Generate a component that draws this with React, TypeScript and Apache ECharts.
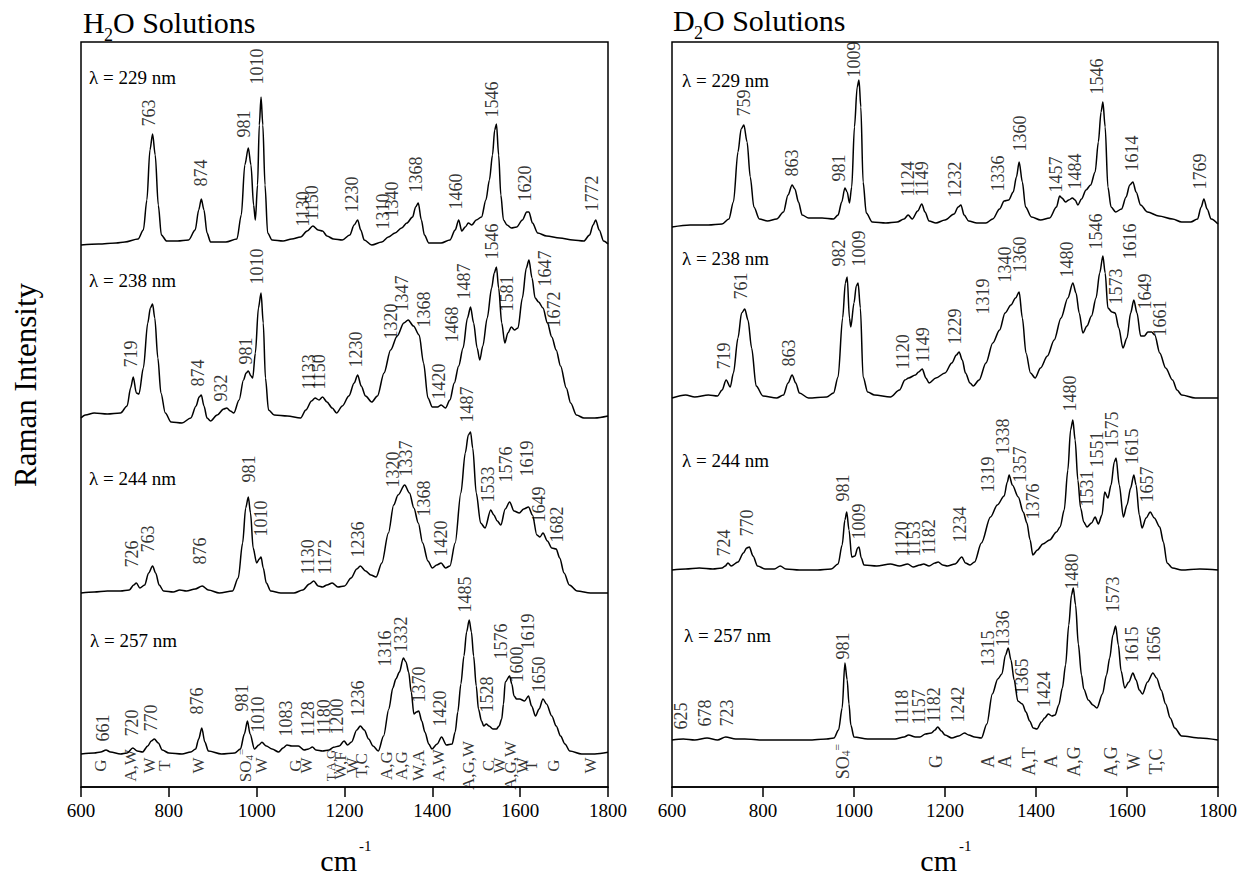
import React, { useEffect, useRef } from 'react';
import * as echarts from 'echarts';

const SERIF = "'Liberation Serif', 'Times New Roman', serif";

const X_MIN = 600;
const X_MAX = 1800;
const X_STEP = 200;

const LAMBDA_NM = ['229', '238', '244', '257'];

// ---- H2O spectra: [wavenumber cm-1, intensity above own baseline] ----
const H2O_229 = [[600,0],[640,1],[680,2],[700,3],[730,6],[742,15],[750,45],[757,95],[763,111],[769,90],[776,40],[783,10],[795,4],[820,4],[845,5],[860,15],[868,35],[874,46],[880,35],[887,12],[895,3],[930,3],[955,6],[965,30],[973,80],[981,97],[987,80],[993,40],[997,25],[1002,60],[1006,120],[1010,148],[1014,120],[1019,60],[1025,12],[1035,5],[1060,4],[1080,6],[1100,8],[1115,14],[1128,19],[1140,15],[1150,14],[1160,9],[1175,6],[1195,5],[1212,10],[1222,20],[1230,25],[1237,15],[1245,5],[1262,0],[1285,3],[1300,8],[1315,12],[1330,17],[1342,22],[1355,28],[1362,38],[1368,42],[1375,25],[1382,10],[1392,2],[1420,2],[1440,5],[1452,15],[1460,25],[1467,14],[1475,18],[1482,22],[1490,20],[1500,25],[1512,28],[1522,45],[1530,65],[1537,90],[1542,115],[1546,121],[1551,90],[1556,50],[1562,25],[1570,20],[1580,17],[1592,18],[1605,25],[1615,33],[1620,33],[1628,22],[1640,12],[1660,9],[1690,7],[1720,5],[1745,4],[1758,10],[1766,20],[1772,25],[1780,15],[1790,4],[1800,1]];
const H2O_238 = [[600,0],[610,3],[630,5],[660,4],[690,5],[705,12],[713,30],[719,41],[726,25],[732,24],[742,50],[752,95],[758,110],[763,114],[768,100],[775,60],[782,25],[792,5],[805,-4],[830,-5],[850,0],[862,12],[869,21],[874,23],[880,12],[887,0],[895,-3],[910,3],[925,9],[932,10],[940,7],[948,5],[960,18],[970,38],[976,45],[981,47],[987,42],[991,40],[997,65],[1004,110],[1010,125],[1015,95],[1020,40],[1027,8],[1040,3],[1070,2],[1100,0],[1112,8],[1125,17],[1133,20],[1142,18],[1150,21],[1160,16],[1172,10],[1182,5],[1195,12],[1210,22],[1222,35],[1230,43],[1238,32],[1248,22],[1262,16],[1275,22],[1290,45],[1305,68],[1320,82],[1335,95],[1345,98],[1357,92],[1370,83],[1380,55],[1390,20],[1400,11],[1412,11],[1420,13],[1430,10],[1440,18],[1450,35],[1460,52],[1470,70],[1480,100],[1487,111],[1494,95],[1502,70],[1508,58],[1515,72],[1525,100],[1535,130],[1541,145],[1546,151],[1551,130],[1558,95],[1565,75],[1572,85],[1580,91],[1587,88],[1595,90],[1605,120],[1614,150],[1620,158],[1627,140],[1634,120],[1642,116],[1652,110],[1662,95],[1672,81],[1682,68],[1692,52],[1705,30],[1715,15],[1728,3],[1745,0],[1770,0],[1800,2]];
const H2O_244 = [[600,0],[630,1],[660,2],[690,2],[710,3],[720,8],[726,10],[734,5],[745,8],[754,20],[763,27],[770,20],[778,8],[788,2],[810,1],[825,3],[840,2],[860,4],[876,7],[890,3],[915,0],[945,2],[958,15],[968,50],[975,85],[981,96],[986,80],[992,45],[1000,30],[1006,34],[1010,36],[1015,25],[1022,10],[1032,2],[1055,0],[1085,0],[1105,3],[1120,9],[1130,12],[1140,7],[1150,6],[1160,8],[1172,10],[1185,6],[1200,7],[1215,15],[1228,24],[1236,27],[1248,22],[1260,18],[1272,16],[1285,30],[1300,60],[1312,88],[1322,98],[1337,108],[1348,100],[1358,85],[1368,70],[1378,50],[1390,32],[1400,25],[1410,28],[1420,30],[1430,25],[1440,27],[1452,50],[1465,100],[1475,140],[1482,158],[1487,161],[1492,145],[1500,100],[1510,70],[1520,65],[1533,83],[1540,78],[1548,72],[1556,68],[1566,84],[1576,91],[1586,82],[1598,80],[1608,84],[1619,86],[1628,78],[1638,58],[1645,56],[1652,60],[1662,52],[1672,45],[1682,44],[1690,35],[1700,20],[1712,8],[1730,2],[1760,0],[1800,0]];
const H2O_257 = [[600,0],[630,1],[645,2],[657,4],[667,2],[690,0],[705,1],[718,6],[728,3],[740,2],[752,8],[760,13],[767,15],[776,11],[785,4],[800,1],[830,0],[850,2],[861,5],[868,15],[875,26],[882,12],[890,3],[920,0],[950,1],[963,5],[972,20],[979,33],[985,20],[995,5],[1005,9],[1012,11.7],[1022,8],[1035,5],[1050,2],[1060,6],[1069,9],[1080,8],[1095,8],[1108,4],[1118,5],[1127,7],[1135,4],[1150,3],[1165,4],[1175,6.7],[1188,8],[1199,13],[1207,9],[1216,12],[1228,24],[1236,28],[1245,24],[1255,15],[1265,8],[1277,3],[1289,18],[1301,45],[1310,66],[1317,75],[1325,82],[1334,96],[1340,92],[1346,82],[1352,62],[1358,40],[1364,42],[1369,43],[1376,33],[1383,22],[1392,10],[1399,5],[1411,10],[1421,17],[1432,9],[1445,10],[1452,22],[1458,42],[1465,70],[1472,98],[1478,122],[1484,134],[1489,122],[1494,98],[1500,68],[1505,45],[1512,33],[1517,28],[1523,30],[1529,28],[1538,25],[1546,25],[1552,28],[1558,35],[1562,50],[1566,72],[1576,78],[1581,70],[1586,58],[1592,55],[1599,55],[1610,53],[1619,58],[1626,48],[1635,38],[1643,45],[1652,55],[1660,50],[1672,38],[1682,28],[1692,18],[1702,10],[1713,3],[1740,0],[1770,0],[1800,1.7]];

// ---- D2O spectra ----
const D2O_229 = [[600,0],[640,2],[680,2],[710,3],[725,8],[735,25],[745,75],[752,98],[758,102],[765,85],[772,50],[780,20],[792,8],[810,6],[830,8],[845,15],[855,32],[864,42],[870,38],[878,25],[886,12],[900,9],[930,9],[955,8],[965,12],[973,25],[980,39],[985,35],[990,24],[995,40],[1001,100],[1007,140],[1011,147],[1015,120],[1020,45],[1027,14],[1040,5],[1070,4],[1095,5],[1110,8],[1119,12],[1128,8],[1140,16],[1149,23],[1156,15],[1165,6],[1180,4],[1200,7],[1220,13],[1229,20],[1235,22],[1242,12],[1252,6],[1270,4],[1290,4],[1305,8],[1320,18],[1330,26],[1340,27],[1350,35],[1357,50],[1363,65],[1370,45],[1377,20],[1390,10],[1410,7],[1430,9],[1445,20],[1452,31],[1457,29],[1465,25],[1472,27],[1480,29],[1486,27],[1492,22],[1500,28],[1510,37],[1520,42],[1530,55],[1537,85],[1543,115],[1547,125],[1552,100],[1558,40],[1565,20],[1575,15],[1588,18],[1598,30],[1606,42],[1613,45],[1620,35],[1630,22],[1645,15],[1670,11],[1700,8],[1720,5],[1740,5],[1755,8],[1763,20],[1769,28],[1776,18],[1785,8],[1800,3]];
const D2O_238 = [[600,0],[630,3],[650,1],[680,3],[700,2],[710,8],[719,18],[728,11],[735,25],[745,60],[753,85],[760,89],[767,78],[775,50],[785,12],[800,2],[830,0],[845,3],[855,15],[864,23],[872,15],[880,5],[900,0],[940,1],[955,5],[965,21],[975,80],[981,115],[985,121],[990,80],[993,71],[1000,95],[1005,112],[1009,115],[1014,90],[1020,21],[1030,6],[1045,3],[1080,1],[1100,8],[1112,18],[1120,20],[1135,23],[1142,26],[1150,29],[1158,20],[1165,15],[1180,20],[1200,25],[1215,35],[1225,43],[1231,46],[1238,38],[1245,25],[1255,15],[1262,12],[1275,18],[1290,35],[1305,55],[1320,68],[1332,85],[1345,93],[1355,100],[1363,106],[1370,80],[1378,45],[1388,25],[1398,20],[1410,30],[1425,42],[1440,58],[1455,80],[1470,100],[1481,115],[1488,105],[1495,85],[1503,65],[1512,72],[1522,82],[1532,100],[1540,125],[1547,142],[1552,125],[1558,90],[1567,86],[1574,85],[1582,70],[1591,50],[1600,60],[1608,85],[1615,98],[1622,85],[1630,62],[1638,62],[1646,66],[1654,66],[1661,63],[1672,45],[1685,30],[1700,18],[1710,8],[1720,3],[1750,0],[1800,0]];
const D2O_244 = [[600,0],[630,1],[660,2],[690,1],[710,2],[717,4],[723,7],[730,4],[745,8],[757,17],[764,22],[770,23],[778,14],[788,4],[805,1],[825,1],[838,4],[850,1],[880,0],[920,0],[950,1],[965,6],[974,25],[980,50],[984,58],[989,40],[995,13],[1002,14],[1008,22],[1011,23],[1016,12],[1022,5],[1050,4],[1080,6],[1100,4],[1118,6],[1130,3],[1145,5],[1153,6],[1165,4],[1178,7],[1185,8],[1195,5],[1205,4],[1222,6],[1237,13],[1245,7],[1255,5],[1265,8],[1280,27],[1300,53],[1315,65],[1330,74],[1337,88],[1341,95],[1348,85],[1361,73],[1372,58],[1380,47],[1387,30],[1393,15],[1403,20],[1415,26],[1430,30],[1445,38],[1453,43],[1462,60],[1470,100],[1476,140],[1481,150],[1486,130],[1492,90],[1498,62],[1505,48],[1512,43],[1522,47],[1530,53],[1537,46],[1545,55],[1551,78],[1558,72],[1565,85],[1572,108],[1576,112],[1583,85],[1592,53],[1600,65],[1608,82],[1615,95],[1620,85],[1627,55],[1633,42],[1642,52],[1651,58],[1660,52],[1672,43],[1680,28],[1688,7],[1700,2],[1720,0],[1760,1],[1800,0]];
const D2O_257 = [[600,0],[625,1],[650,0],[677,2],[700,0],[718,3],[740,1],[760,1],[800,0],[850,0],[900,0],[940,1],[956,2],[966,10],[974,32],[980,77],[985,60],[989,36],[993,15],[1000,3],[1030,1],[1060,1],[1090,1],[1110,3],[1120,5],[1135,3],[1145,3],[1157,6],[1170,7],[1178,10],[1184,13],[1192,9],[1200,5],[1215,2],[1230,4],[1243,7],[1252,5],[1265,3],[1280,2],[1292,16],[1304,46],[1316,61],[1325,66],[1333,85],[1339,92],[1345,80],[1352,60],[1360,39],[1370,36],[1378,28],[1386,19],[1394,12],[1402,11],[1412,18],[1419,22],[1427,26],[1435,24],[1442,25],[1450,35],[1458,52],[1465,75],[1472,115],[1478,145],[1482,152],[1487,135],[1493,96],[1500,65],[1505,51],[1515,40],[1525,35],[1534,32],[1546,46],[1555,65],[1562,82],[1569,105],[1575,114],[1581,95],[1587,69],[1595,52],[1604,58],[1613,67],[1620,60],[1627,50],[1634,46],[1645,58],[1657,67],[1665,62],[1675,50],[1685,36],[1695,22],[1705,12],[1720,4],[1760,2],[1800,0]];

// ---- peak labels: [text, label x (cm-1), label foot height above baseline] ----
const H2O_PEAKS_229 = [['763',757,118],['874',875,58],['981',973,107],['1010',1003,160],['1130',1106,18],['1150',1128,24],['1230',1219,32],['1310',1288,15],['1340',1310,27],['1368',1365,52],['1460',1456,35],['1546',1536,127],['1620',1613,43],['1772',1764,33]];
const H2O_PEAKS_238 = [['719',716,50],['874',867,31],['932',921,16],['981',976,53],['1010',1003,133],['1133',1121,28],['1150',1144,28],['1230',1228,50],['1320',1306,78],['1347',1333,106],['1368',1383,90],['1420',1417,18],['1468',1447,75],['1487',1474,118],['1546',1536,158],['1581',1572,106],['1647',1657,131],['1672',1679,90]];
const H2O_PEAKS_244 = [['726',718,25],['763',753,40],['876',871,28],['981',983,110],['1010',1012,56],['1130',1117,18],['1172',1156,18],['1236',1231,35],['1320',1311,105],['1337',1342,116],['1368',1383,76],['1420',1422,36],['1487',1479,170],['1533',1527,90],['1576',1570,110],['1619',1616,116],['1649',1645,70],['1682',1686,50]];
const H2O_PEAKS_257 = [['661',651,12],['720',718,17],['770',761,22],['876',865,39],['981',967,42],['1010',1004,21],['1083',1069,17],['1128',1118,17],['1180',1154,19],['1200',1183,19],['1236',1232,37],['1316',1293,87],['1332',1330,101],['1370',1370,51],['1420',1419,27],['1485',1476,141],['1528',1525,41],['1576',1558,94],['1600',1595,71],['1619',1619,104],['1650',1643,61]];

const D2O_PEAKS_229 = [['759',760,110],['863',864,50],['981',969,45],['1009',1002,149],['1124',1119,30],['1149',1150,30],['1232',1222,29],['1336',1317,35],['1360',1365,75],['1457',1446,34],['1484',1486,37],['1546',1536,132],['1614',1611,55],['1769',1761,37]];
const D2O_PEAKS_238 = [['719',716,28],['761',752,98],['863',859,31],['982',969,131],['1009',1013,131],['1120',1108,28],['1149',1152,35],['1229',1222,53],['1319',1284,83],['1340',1332,115],['1360',1365,125],['1480',1470,120],['1546',1534,148],['1573',1578,93],['1616',1607,138],['1649',1640,88],['1661',1673,61]];
const D2O_PEAKS_244 = [['724',716,13],['770',767,33],['981',976,68],['1009',1013,30],['1120',1106,13],['1153',1134,13],['1182',1167,15],['1234',1233,27],['1319',1295,77],['1338',1328,115],['1357',1365,87],['1376',1394,50],['1480',1475,158],['1531',1514,63],['1551',1536,102],['1575',1569,122],['1615',1613,105],['1657',1646,67]];
const D2O_PEAKS_257 = [['625',620,10],['678',673,13],['723',722,13],['981',976,80],['1118',1107,15],['1157',1144,15],['1182',1177,17],['1242',1230,17],['1315',1296,73],['1336',1329,93],['1365',1370,45],['1424',1419,32],['1480',1480,150],['1573',1570,127],['1615',1612,77],['1656',1661,77]];

// ---- band assignments along the bottom: [text, x (cm-1)] ----
const H2O_ASSIGN = [['G',645],['A,W',714],['W',757],['T',792],['W',869],['SO4=',975],['W',1012],['G',1089],['W',1114],['T,A,G',1171],['W,F',1191],['W',1220],['T,C',1240],['A,G',1297],['A,G',1330],['W,A',1370],['A,W',1415],['A,G,W',1484],['C',1529],['W',1554],['A,G,W',1578],['W',1607],['T',1627],['G',1676],['W',1762]];
const D2O_ASSIGN = [['SO4=',976],['G',1181],['A',1296],['A',1333],['A,T',1386],['A',1435],['A,G',1484],['A,G',1566],['W',1616],['T,C',1665]];

// vertical stacking (axis units) of each trace's baseline
const H2O_OFFSETS = [542, 369, 194, 33];
const D2O_OFFSETS = [560, 389, 217, 47];
const Y_MAX = 745;

const H2O_SPECTRA = [H2O_229, H2O_238, H2O_244, H2O_257];
const D2O_SPECTRA = [D2O_229, D2O_238, D2O_244, D2O_257];
const H2O_PEAKS = [H2O_PEAKS_229, H2O_PEAKS_238, H2O_PEAKS_244, H2O_PEAKS_257];
const D2O_PEAKS = [D2O_PEAKS_229, D2O_PEAKS_238, D2O_PEAKS_244, D2O_PEAKS_257];

const GRID_TOP = 42;
const GRID_H = 745;
const GRIDS = [
  { left: 81, width: 527 },
  { left: 672, width: 546 },
];

function lineSeries(data: number[][], offset: number, gi: number) {
  return {
    type: 'line',
    xAxisIndex: gi,
    yAxisIndex: gi,
    data: data.map(([x, y]) => [x, y + offset]),
    showSymbol: false,
    symbol: 'none',
    smooth: 0.3,
    smoothMonotone: 'x',
    lineStyle: { color: '#000', width: 1.5 },
    silent: true,
    z: 2,
  };
}

function peakLabelSeries(labels: any[], offset: number, gi: number) {
  return {
    type: 'scatter',
    xAxisIndex: gi,
    yAxisIndex: gi,
    symbolSize: 1,
    itemStyle: { color: 'rgba(0,0,0,0)' },
    silent: true,
    z: 3,
    data: labels.map(([t, x, h]) => ({ name: t, value: [x, h + offset] })),
    label: {
      show: true,
      formatter: '{b}',
      rotate: 90,
      position: [0, 0],
      align: 'left',
      verticalAlign: 'middle',
      fontFamily: SERIF,
      fontSize: 18,
      color: '#000',
    },
  };
}

function assignSeries(labels: any[], yVal: number, gi: number, fs: number) {
  return {
    type: 'scatter',
    xAxisIndex: gi,
    yAxisIndex: gi,
    symbolSize: 1,
    itemStyle: { color: 'rgba(0,0,0,0)' },
    silent: true,
    z: 3,
    data: labels.map(([t, x]) => ({ name: t, value: [x, yVal] })),
    label: {
      show: true,
      formatter: (p: any) =>
        p.name === 'SO4=' ? '{n|SO}{sub|4}{sup|=}' : p.name === 'T,A,G' ? '{sm|T,A,G}' : p.name,
      rotate: 90,
      position: [0, 0],
      align: 'center',
      verticalAlign: 'middle',
      fontFamily: SERIF,
      fontSize: fs,
      color: '#000',
      rich: {
        n: { fontFamily: SERIF, fontSize: fs, color: '#000', lineHeight: fs + 2 },
        sub: { fontFamily: SERIF, fontSize: fs * 0.65, color: '#000', lineHeight: fs * 0.65, verticalAlign: 'bottom' },
        sup: { fontFamily: SERIF, fontSize: fs * 0.65, color: '#000', lineHeight: fs * 0.65, verticalAlign: 'top' },
        sm: { fontFamily: SERIF, fontSize: fs * 0.75, color: '#000' },
      },
    },
  };
}

function txt(text: string, x: number, y: number, size: number, extra: any = {}) {
  const { align, ...rest } = extra;
  return {
    type: 'text',
    x,
    y,
    silent: true,
    ...rest,
    style: {
      text,
      fontFamily: SERIF,
      fontSize: size,
      fill: '#000',
      align: align || 'left',
      verticalAlign: 'middle',
    },
  };
}

export default function App() {
  const ref = useRef<HTMLDivElement>(null);

  useEffect(() => {
    if (!ref.current) return;
    const chart = echarts.init(ref.current, undefined, { renderer: 'svg' });

    const series: any[] = [];
    H2O_SPECTRA.forEach((s, i) => series.push(lineSeries(s, H2O_OFFSETS[i], 0)));
    D2O_SPECTRA.forEach((s, i) => series.push(lineSeries(s, D2O_OFFSETS[i], 1)));
    H2O_PEAKS.forEach((p, i) => series.push(peakLabelSeries(p, H2O_OFFSETS[i], 0)));
    D2O_PEAKS.forEach((p, i) => series.push(peakLabelSeries(p, D2O_OFFSETS[i], 1)));
    series.push(assignSeries(H2O_ASSIGN, 21, 0, 17));
    series.push(assignSeries(D2O_ASSIGN, 25, 1, 18));

    const lambdaPos = [
      [[89, 77], [89, 280], [89, 478], [90, 640]],
      [[682, 80], [682, 258], [682, 460], [684, 635]],
    ];
    const graphic: any[] = [];
    LAMBDA_NM.forEach((nm, i) => {
      graphic.push(txt('\u03bb = ' + nm + ' nm', lambdaPos[0][i][0], lambdaPos[0][i][1], 19));
      graphic.push(txt('\u03bb = ' + nm + ' nm', lambdaPos[1][i][0], lambdaPos[1][i][1], 19));
    });
    // panel titles
    graphic.push(txt('H', 83, 22, 30));
    graphic.push(txt('2', 104, 35, 18));
    graphic.push(txt('O Solutions', 113, 22, 30));
    graphic.push(txt('D', 673, 20, 30));
    graphic.push(txt('2', 694, 33, 18));
    graphic.push(txt('O Solutions', 703, 20, 30));
    // axis titles
    graphic.push(txt('Raman Intensity', 25, 385, 31, { rotation: Math.PI / 2, align: 'center' }));
    graphic.push(txt('cm', 357, 860, 30, { align: 'right' }));
    graphic.push(txt('-1', 359, 846, 15));
    graphic.push(txt('cm', 957, 860, 30, { align: 'right' }));
    graphic.push(txt('-1', 959, 846, 15));

    const option: any = {
      animation: false,
      backgroundColor: '#fff',
      grid: GRIDS.map((g) => ({
        left: g.left,
        width: g.width,
        top: GRID_TOP,
        height: GRID_H,
        show: true,
        borderColor: '#000',
        borderWidth: 1.5,
        backgroundColor: 'transparent',
      })),
      xAxis: GRIDS.map((_, i) => ({
        type: 'value',
        gridIndex: i,
        min: X_MIN,
        max: X_MAX,
        interval: X_STEP,
        axisLine: { show: true, lineStyle: { color: '#000', width: 1.5 } },
        axisTick: { show: true, inside: false, length: 10, lineStyle: { color: '#000', width: 1.5 } },
        axisLabel: {
          show: true,
          color: '#000',
          fontFamily: SERIF,
          fontSize: 19,
          margin: 14,
          showMinLabel: true,
          showMaxLabel: true,
          formatter: (v: number) => String(v),
        },
        splitLine: { show: false },
      })),
      yAxis: GRIDS.map((_, i) => ({
        type: 'value',
        gridIndex: i,
        min: 0,
        max: Y_MAX,
        show: false,
        splitLine: { show: false },
      })),
      series,
      graphic,
    };
    chart.setOption(option);
    return () => chart.dispose();
  }, []);

  return (
    <div
      ref={ref}
      style={{ position: 'fixed', left: 0, top: 0, width: 1242, height: 877, background: '#fff' }}
    />
  );
}
